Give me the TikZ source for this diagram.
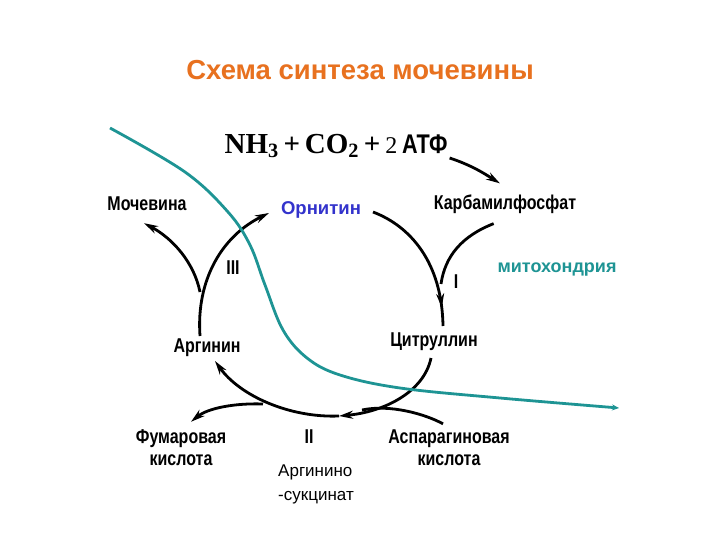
\documentclass[tikz,border=0pt]{standalone}
\usepackage{fontspec}
\setmainfont{Liberation Sans}
\newfontfamily\labf[FakeStretch=0.8]{Liberation Sans}
\newfontfamily\serf{Liberation Serif}
\usetikzlibrary{arrows.meta,decorations.markings,calc}
\definecolor{titleor}{HTML}{E8711F}
\definecolor{ornblue}{HTML}{3333CC}
\definecolor{mitoteal}{HTML}{1E9494}
\begin{document}
\begin{tikzpicture}[x=1pt,y=-1pt,
  lab/.style={font=\labf\bfseries\fontsize{20}{22}\selectfont, inner sep=0pt, align=center},
  rom/.style={font=\labf\bfseries\fontsize{20}{22}\selectfont, inner sep=0pt},
  cyc/.style={line width=2.8pt, black},
  tip/.style={-{Stealth[length=14pt,width=8pt]}},
  midtip/.style={decoration={markings, mark=at position #1 with {\arrow{Stealth[length=14pt,width=8pt]}}}, postaction={decorate}},
  memb/.style={line width=2.8pt, mitoteal, -{Stealth[length=7pt,width=6pt]}}
]
\useasboundingbox (0,0) rectangle (720,540);
\fill[white] (0,0) rectangle (720,540);

% title
\node[font=\bfseries\fontsize{27.5}{30}\selectfont, text=titleor, inner sep=0pt] (title) at (360,70) {Схема синтеза мочевины};

% reaction
\node[inner sep=0pt] (nh) at (336,146) {\serf\bfseries\fontsize{29}{31}\selectfont NH\textsubscript{3}\,+\,CO\textsubscript{2}\,+\,{\mdseries\fontsize{24}{26}\selectfont 2}\,{\labf\bfseries\fontsize{27}{29}\selectfont АТФ}};

% labels
\node[lab] (moch) at (147,204) {Мочевина};
\node[font=\bfseries\fontsize{18.5}{20}\selectfont, text=ornblue, inner sep=0pt] (orn) at (321,210) {Орнитин};
\node[lab] (carb) at (505,204) {Карбамилфосфат};
\node[font=\bfseries\fontsize{18}{20}\selectfont, text=mitoteal, inner sep=0pt] (mito) at (557,270) {митохондрия};
\node[lab] (arg) at (207,348) {Аргинин};
\node[lab] (cit) at (434,342) {Цитруллин};
\node[lab] (fum) at (181,448) {Фумаровая\\кислота};
\node[lab] (asp) at (449,448) {Аспарагиновая\\кислота};
\node[font=\fontsize{17}{24}\selectfont, inner sep=0pt, align=left] (asuc) at (316,484) {Аргинино\\-сукцинат};

% roman numerals
\node[rom] (r3) at (233,268) {III};
\node[rom] (r1) at (456,282) {I};
\node[rom] (r2) at (309,437) {II};

% junction and end coordinates
\coordinate (j1) at (441,284);
\coordinate (j2) at (362,410);
\coordinate (j3) at (263,404);
\coordinate (j4) at (200,292);
\coordinate (cbot) at (443,326);
\coordinate (ctop) at (431,358);
\coordinate (atop) at (200,336);
\coordinate (aarr) at (215,361);
\coordinate (btip) at (339,416);
\coordinate (otip) at (269,213);
\coordinate (oright) at (373,212);
\coordinate (carbout) at ($(carb.south west)+(60,10)$);
\coordinate (aspout) at ($(asp.north)+(-6,-6)$);
\coordinate (fumin) at ($(fum.north)+(10,-8)$);
\coordinate (mochin) at ($(moch.south)+(-3,12)$);
\coordinate (nhout) at ($(nh.east)+(2,12)$);
\coordinate (carbin) at ($(carb.north)+(-5,-11)$);

% cycle arcs
\draw[cyc, midtip=0.87] (oright) .. controls (410,226) and (442,262) .. (cbot);
\draw[cyc] (carbout) .. controls (462,236) and (445,256) .. (j1);
\draw[cyc, tip] (ctop) .. controls (424,392) and (384,412) .. (btip);
\draw[cyc] (aspout) .. controls (425,414) and (390,404) .. (j2);
\draw[cyc, tip] (btip) .. controls (290,418) and (240,396) .. (aarr);
\draw[cyc, tip] (j3) .. controls (235,403) and (208,408) .. (fumin);
\draw[cyc, tip] (atop) .. controls (196,280) and (222,236) .. (otip);
\draw[cyc, tip] (j4) .. controls (194,262) and (172,238) .. (mochin);
\draw[cyc, tip] (nhout) .. controls (474,166) and (488,176) .. (carbin);

% membrane line
\coordinate (m0) at (110,128);
\coordinate (m9) at (619,408);
\draw[memb] plot[smooth, tension=0.6] coordinates {(m0) (185,172) (228,212) (250,245) (265,285) (283,330) (307,358) (340,375) (400,388) (500,398) (m9)};
\end{tikzpicture}
\end{document}
